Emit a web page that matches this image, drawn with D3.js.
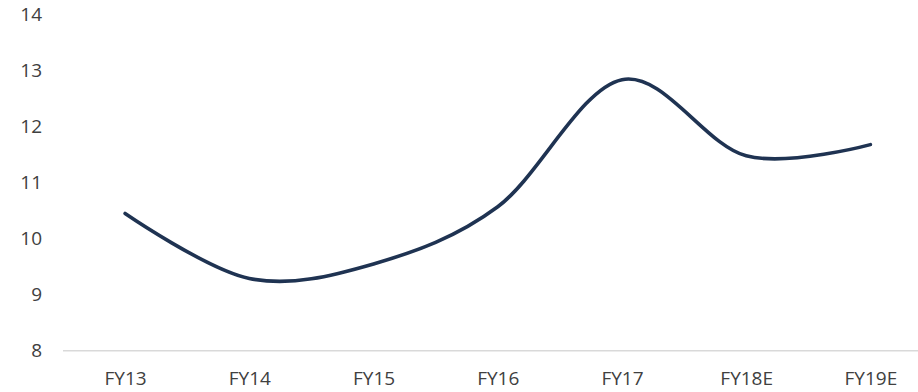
<!DOCTYPE html>
<html>
<head>
<meta charset="utf-8">
<script src="https://cdn.jsdelivr.net/npm/d3@7"></script>
<style>
  html, body { margin: 0; padding: 0; background: #fff; }
  svg { display: block; }
</style>
</head>
<body>
<svg id="chart" width="918" height="392"></svg>
<script>
const categories = ["FY13", "FY14", "FY15", "FY16", "FY17", "FY18E", "FY19E"];
const values = [10.45, 9.29, 9.55, 10.57, 12.84, 11.48, 11.68];
const yTicks = [8, 9, 10, 11, 12, 13, 14];

const svg = d3.select("#chart");
const font = "'Open Sans', sans-serif";
const textColor = "#404040";

const x = d3.scalePoint().domain(categories).range([63, 932.5]).padding(0.5);
const y = d3.scaleLinear().domain([8, 14]).range([350.7, 14.7]);

// Baseline
svg.append("line")
  .attr("x1", 63).attr("x2", 918)
  .attr("y1", y(8)).attr("y2", y(8))
  .attr("stroke", "#d9d9d9").attr("stroke-width", 1.5);

// Y axis labels
const yAxis = d3.axisLeft(y).tickValues(yTicks).tickSize(0).tickPadding(0).tickFormat(d3.format("d"));
const gy = svg.append("g").attr("transform", "translate(42,0)").call(yAxis);
gy.select(".domain").remove();
gy.selectAll("text")
  .attr("fill", textColor)
  .style("font-family", font)
  .style("font-size", "19px");

// X axis labels
const xAxis = d3.axisBottom(x).tickSize(0).tickPadding(21);
const gx = svg.append("g").attr("transform", `translate(0,${y(8)})`).call(xAxis);
gx.select(".domain").remove();
gx.selectAll("text")
  .attr("fill", textColor)
  .style("font-family", font)
  .style("font-size", "19px");

// Line
const line = d3.line()
  .x((d, i) => x(categories[i]))
  .y(d => y(d))
  .curve(d3.curveCardinal.tension(0));

svg.append("path")
  .datum(values)
  .attr("d", line)
  .attr("fill", "none")
  .attr("stroke", "#1f3352")
  .attr("stroke-width", 3.6)
  .attr("stroke-linecap", "round")
  .attr("stroke-linejoin", "round");
</script>
</body>
</html>
